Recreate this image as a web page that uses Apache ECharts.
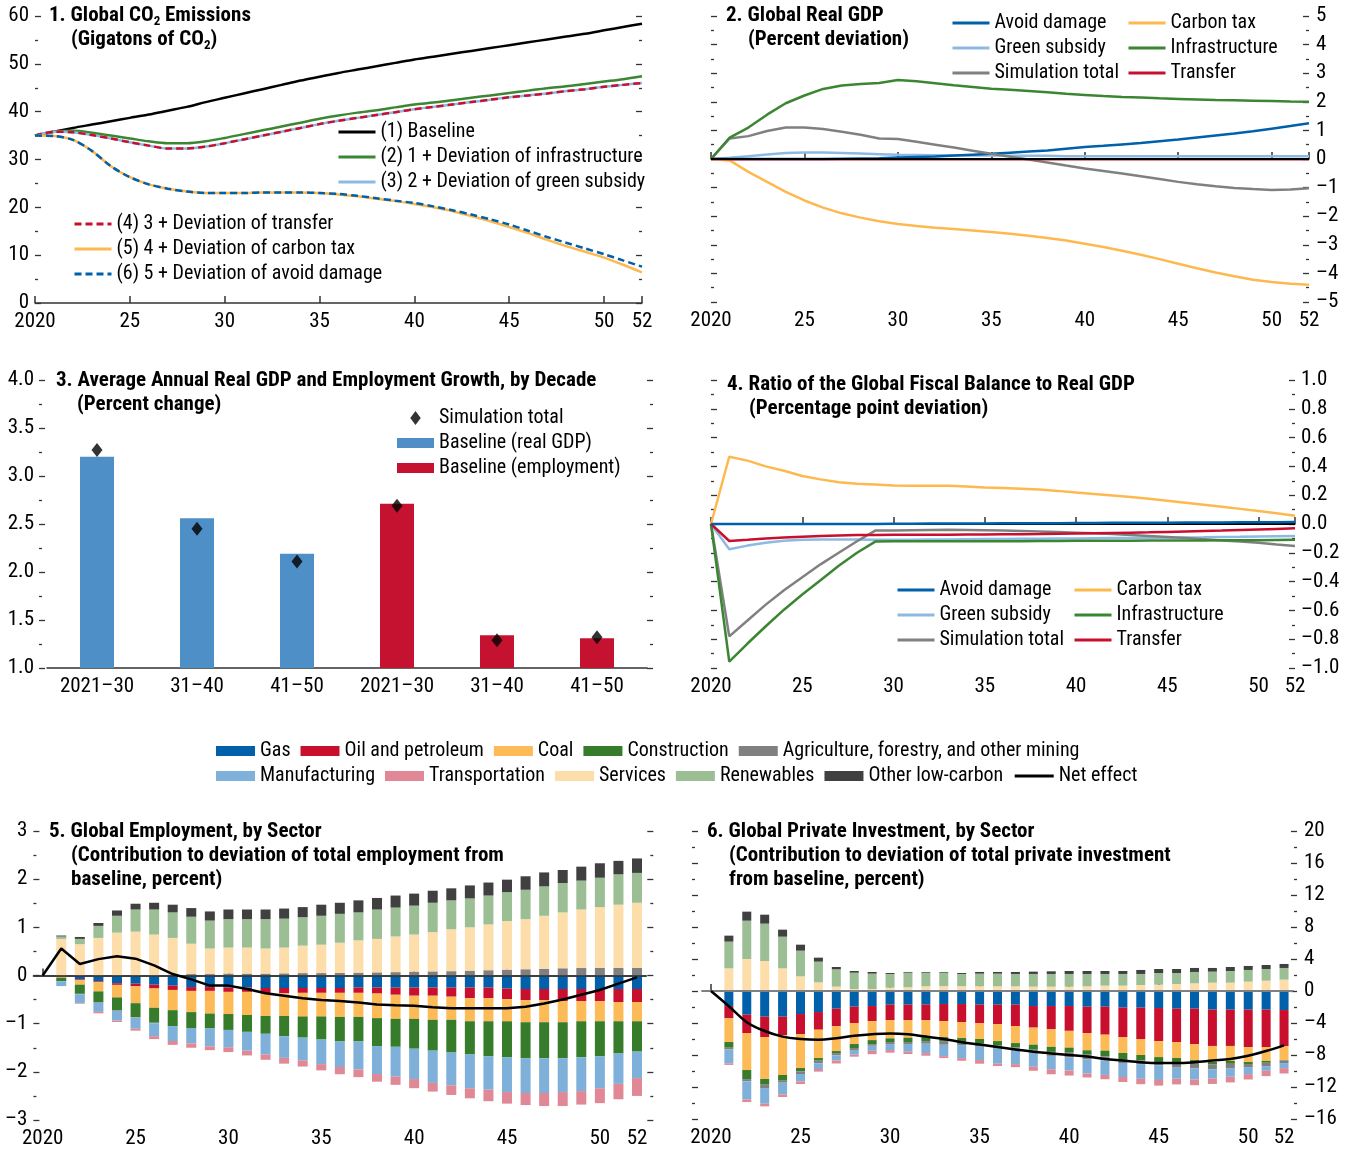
<!DOCTYPE html>
<html><head><meta charset="utf-8">
<script src="https://cdn.jsdelivr.net/npm/echarts@6/dist/echarts.min.js"></script>
<style>html,body{margin:0;padding:0;background:#fff}#c{width:1353px;height:1151px}</style>
</head><body><div id="c"></div>
<script>
// ---------- categories ----------
const years = ['2020','2021','2022','2023','2024','2025','2026','2027','2028','2029','2030','2031','2032','2033','2034','2035','2036','2037','2038','2039','2040','2041','2042','2043','2044','2045','2046','2047','2048','2049','2050','2051','2052'];
const tickYears = ['2020','2025','2030','2035','2040','2045','2050','2052'];

// ---------- Panel 1: Global CO2 emissions ----------
const co2Baseline = [35.0,35.8,36.6,37.3,38.0,38.7,39.4,40.2,41.0,42.0,42.9,43.8,44.7,45.6,46.5,47.3,48.1,48.8,49.5,50.2,50.9,51.5,52.1,52.7,53.3,53.9,54.5,55.1,55.7,56.3,57.0,57.7,58.4];
const co2Infra    = [35.0,35.8,36.0,35.6,35.0,34.4,33.8,33.4,33.4,33.8,34.5,35.3,36.1,36.9,37.7,38.5,39.2,39.8,40.3,40.9,41.5,41.9,42.4,42.9,43.4,43.9,44.4,44.9,45.3,45.8,46.3,46.8,47.4];
const co2Subsidy  = [35.0,35.8,35.7,35.1,34.4,33.6,32.9,32.3,32.3,32.7,33.4,34.2,35.0,35.8,36.6,37.4,38.1,38.7,39.3,39.9,40.5,41.0,41.5,42.0,42.5,43.0,43.4,43.8,44.3,44.7,45.2,45.6,46.0];
const co2Transfer = [35.0,35.8,35.7,35.1,34.4,33.6,32.9,32.3,32.3,32.7,33.4,34.2,35.0,35.8,36.6,37.4,38.1,38.7,39.3,39.9,40.5,41.0,41.5,42.0,42.5,43.0,43.4,43.8,44.3,44.7,45.2,45.6,46.0];
const co2Carbon   = [35.0,34.9,34.1,31.8,28.6,26.3,24.8,23.9,23.3,23.0,23.0,23.0,23.1,23.1,23.1,23.0,22.7,22.3,21.8,21.3,20.7,20.0,19.2,18.2,17.1,15.9,14.6,13.2,11.9,10.7,9.5,8.0,6.4];
const co2Avoid    = [35.0,34.9,34.1,31.8,28.6,26.3,24.8,23.9,23.3,23.0,23.0,23.0,23.1,23.1,23.1,23.0,22.8,22.4,21.9,21.4,20.9,20.2,19.4,18.5,17.5,16.4,15.1,13.8,12.6,11.4,10.2,8.9,7.6];

// ---------- Panel 2: Global real GDP ----------
const gdpAvoid    = [0,0,0,0,0,0,0,0.01,0.02,0.03,0.05,0.07,0.09,0.12,0.15,0.18,0.22,0.26,0.3,0.36,0.42,0.46,0.51,0.56,0.62,0.68,0.75,0.82,0.89,0.97,1.06,1.15,1.25];
const gdpSubsidy  = [0,0.04,0.1,0.16,0.21,0.23,0.23,0.21,0.19,0.17,0.15,0.14,0.13,0.12,0.12,0.12,0.11,0.11,0.11,0.1,0.1,0.1,0.1,0.1,0.1,0.1,0.1,0.1,0.1,0.1,0.1,0.1,0.1];
const gdpTotal    = [0,0.72,0.8,0.98,1.1,1.1,1.05,0.95,0.85,0.72,0.7,0.6,0.5,0.4,0.29,0.18,0.08,-0.02,-0.12,-0.23,-0.33,-0.42,-0.51,-0.6,-0.7,-0.8,-0.88,-0.95,-1.01,-1.05,-1.08,-1.07,-1.02];
const gdpCarbon   = [0,-0.05,-0.45,-0.8,-1.15,-1.45,-1.7,-1.9,-2.05,-2.18,-2.27,-2.34,-2.4,-2.45,-2.5,-2.55,-2.61,-2.68,-2.76,-2.85,-2.96,-3.08,-3.21,-3.35,-3.5,-3.66,-3.82,-3.97,-4.1,-4.22,-4.3,-4.36,-4.4];
const gdpInfra    = [0,0.75,1.1,1.55,1.95,2.22,2.45,2.57,2.62,2.66,2.76,2.72,2.65,2.58,2.52,2.46,2.42,2.38,2.33,2.28,2.24,2.2,2.17,2.15,2.12,2.1,2.08,2.06,2.05,2.04,2.03,2.01,2.0];
const gdpTransfer = [0,-0.01,-0.01,-0.01,-0.01,-0.01,-0.01,-0.01,-0.01,-0.01,-0.01,-0.01,-0.01,-0.01,-0.01,-0.01,-0.01,-0.01,-0.01,-0.01,-0.01,-0.01,-0.01,-0.01,-0.01,-0.01,-0.01,-0.01,-0.01,-0.01,-0.01,-0.01,-0.01];

// ---------- Panel 3: growth by decade ----------
const decadeLabels = ['2021\u201330','31\u201340','41\u201350','2021\u201330','31\u201340','41\u201350'];
const baseGdp  = [3.2,2.56,2.19,'-','-','-'];
const baseEmp  = ['-','-','-',2.71,1.34,1.31];
const simTotal = [3.27,2.45,2.11,2.69,1.29,1.32];

// ---------- Panel 4: fiscal balance ----------
const fbAvoid    = [0,0,0,0,0,0,0,0,0,0,0.002,0.002,0.003,0.003,0.004,0.004,0.005,0.005,0.006,0.006,0.007,0.007,0.008,0.008,0.009,0.009,0.01,0.01,0.011,0.012,0.012,0.013,0.014];
const fbSubsidy  = [0,-0.176,-0.15,-0.13,-0.116,-0.11,-0.108,-0.108,-0.108,-0.11,-0.11,-0.11,-0.108,-0.107,-0.106,-0.105,-0.104,-0.103,-0.102,-0.101,-0.1,-0.099,-0.098,-0.097,-0.096,-0.095,-0.093,-0.092,-0.09,-0.089,-0.087,-0.085,-0.083];
const fbTotal    = [0,-0.78,-0.67,-0.56,-0.46,-0.37,-0.28,-0.2,-0.12,-0.046,-0.045,-0.043,-0.041,-0.04,-0.041,-0.043,-0.045,-0.048,-0.052,-0.056,-0.06,-0.065,-0.07,-0.076,-0.083,-0.09,-0.098,-0.106,-0.114,-0.122,-0.13,-0.142,-0.153];
const fbCarbon   = [0,0.467,0.44,0.4,0.37,0.333,0.31,0.29,0.28,0.275,0.268,0.266,0.266,0.265,0.26,0.254,0.25,0.245,0.24,0.23,0.218,0.208,0.198,0.188,0.175,0.162,0.148,0.134,0.12,0.105,0.09,0.075,0.058];
const fbInfra    = [0,-0.955,-0.83,-0.71,-0.595,-0.49,-0.39,-0.29,-0.2,-0.122,-0.12,-0.12,-0.12,-0.12,-0.12,-0.12,-0.12,-0.12,-0.118,-0.118,-0.117,-0.117,-0.116,-0.116,-0.115,-0.115,-0.114,-0.114,-0.113,-0.112,-0.112,-0.111,-0.11];
const fbTransfer = [0,-0.118,-0.11,-0.1,-0.093,-0.088,-0.083,-0.08,-0.077,-0.076,-0.075,-0.075,-0.074,-0.074,-0.073,-0.073,-0.072,-0.071,-0.07,-0.068,-0.066,-0.064,-0.062,-0.06,-0.058,-0.055,-0.052,-0.049,-0.046,-0.042,-0.038,-0.034,-0.03];

// ---------- Panel 5: employment by sector ----------
const empGas       = [0,-0.005,-0.08,-0.12,-0.16,-0.17,-0.19,-0.21,-0.24,-0.24,-0.25,-0.25,-0.26,-0.26,-0.26,-0.26,-0.26,-0.25,-0.25,-0.25,-0.25,-0.25,-0.25,-0.25,-0.25,-0.27,-0.28,-0.28,-0.28,-0.28,-0.28,-0.28,-0.28];
const empOil       = [0,-0.02,-0.02,-0.02,-0.035,-0.055,-0.08,-0.09,-0.08,-0.08,-0.09,-0.09,-0.11,-0.11,-0.1,-0.1,-0.1,-0.11,-0.125,-0.15,-0.17,-0.17,-0.19,-0.22,-0.22,-0.22,-0.23,-0.23,-0.25,-0.25,-0.25,-0.27,-0.27];
const empCoal      = [0,-0.02,-0.09,-0.19,-0.26,-0.35,-0.4,-0.42,-0.44,-0.47,-0.46,-0.48,-0.47,-0.47,-0.49,-0.49,-0.5,-0.5,-0.51,-0.5,-0.48,-0.5,-0.48,-0.48,-0.48,-0.46,-0.46,-0.46,-0.44,-0.42,-0.42,-0.4,-0.4];
const empConstr    = [0,-0.07,-0.19,-0.22,-0.27,-0.29,-0.31,-0.33,-0.33,-0.31,-0.33,-0.35,-0.37,-0.42,-0.44,-0.48,-0.51,-0.51,-0.58,-0.58,-0.62,-0.64,-0.68,-0.69,-0.73,-0.75,-0.75,-0.75,-0.75,-0.75,-0.73,-0.67,-0.63];
const empAgri      = [0,-0.005,-0.01,-0.015,-0.01,-0.01,-0.01,0.02,0.03,0.03,0.04,0.04,0.04,0.045,0.05,0.05,0.055,0.06,0.065,0.07,0.08,0.085,0.09,0.1,0.11,0.12,0.13,0.14,0.15,0.155,0.16,0.16,0.16];
const empManuf     = [0,-0.1,-0.18,-0.19,-0.2,-0.23,-0.27,-0.31,-0.32,-0.37,-0.36,-0.39,-0.43,-0.45,-0.47,-0.51,-0.53,-0.58,-0.58,-0.62,-0.63,-0.67,-0.68,-0.7,-0.69,-0.72,-0.72,-0.72,-0.7,-0.7,-0.66,-0.63,-0.55];
const empTransport = [0,0,-0.015,-0.03,-0.03,-0.04,-0.06,-0.08,-0.09,-0.08,-0.1,-0.1,-0.11,-0.12,-0.13,-0.13,-0.15,-0.16,-0.16,-0.17,-0.19,-0.18,-0.2,-0.21,-0.24,-0.24,-0.25,-0.27,-0.29,-0.28,-0.31,-0.32,-0.37];
const empServices  = [0,0.76,0.65,0.78,0.89,0.91,0.85,0.76,0.63,0.53,0.54,0.54,0.52,0.535,0.57,0.59,0.625,0.67,0.695,0.74,0.77,0.815,0.87,0.9,0.95,1.01,1.04,1.1,1.16,1.215,1.26,1.31,1.35];
const empRenew     = [0,0.05,0.11,0.25,0.35,0.46,0.52,0.53,0.56,0.58,0.59,0.59,0.61,0.6,0.59,0.6,0.6,0.58,0.61,0.6,0.6,0.61,0.6,0.6,0.6,0.6,0.61,0.61,0.61,0.6,0.61,0.63,0.62];
const empOther     = [0,0.02,0.04,0.06,0.11,0.12,0.14,0.16,0.18,0.19,0.2,0.2,0.2,0.21,0.21,0.23,0.23,0.25,0.24,0.25,0.25,0.25,0.25,0.27,0.27,0.26,0.28,0.29,0.27,0.29,0.3,0.28,0.3];
const empNet       = [0,0.56,0.24,0.34,0.4,0.35,0.21,0.03,-0.08,-0.21,-0.21,-0.28,-0.37,-0.42,-0.47,-0.51,-0.53,-0.56,-0.6,-0.62,-0.63,-0.66,-0.68,-0.68,-0.68,-0.68,-0.65,-0.58,-0.5,-0.4,-0.3,-0.17,-0.04];

// ---------- Panel 6: private investment by sector ----------
const invGas       = [0,-1.88,-2.96,-3.21,-3.21,-2.88,-2.63,-2.21,-1.96,-1.88,-1.71,-1.71,-1.71,-1.63,-1.63,-1.71,-1.71,-1.71,-1.88,-1.88,-1.88,-1.96,-1.96,-2.08,-2.08,-2.13,-2.21,-2.21,-2.33,-2.33,-2.33,-2.33,-2.38];
const invOil       = [0,-1.5,-2.29,-2.54,-2.33,-2.5,-2.21,-2.17,-2.04,-1.88,-1.92,-1.92,-1.92,-2.13,-2.25,-2.29,-2.42,-2.67,-2.7,-2.9,-3.1,-3.3,-3.5,-3.67,-3.92,-4.13,-4.17,-4.42,-4.54,-4.54,-4.67,-4.67,-4.5];
const invCoal      = [0,-3.0,-4.63,-5.25,-4.96,-4.25,-3.54,-3.13,-2.63,-2.38,-2.29,-2.21,-2.13,-2.0,-2.0,-2.0,-2.13,-2.13,-2.13,-2.2,-2.1,-2.15,-2.0,-2.0,-2.0,-2.0,-2.0,-2.0,-2.0,-1.88,-1.88,-1.75,-1.75];
const invConstr    = [0,-0.71,-1.13,-0.71,-0.71,-0.42,-0.33,-0.25,-0.5,-0.5,-0.46,-0.54,-0.5,-0.5,-0.5,-0.58,-0.58,-0.54,-0.63,-0.63,-0.63,-0.55,-0.7,-0.75,-0.65,-0.63,-0.6,-0.35,-0.28,-0.35,-0.25,-0.22,-0.05];
const invAgri      = [0,-0.2,-0.29,-0.42,-0.25,-0.33,-0.33,-0.29,-0.25,-0.21,-0.25,-0.25,-0.33,-0.46,-0.38,-0.38,-0.29,-0.21,-0.25,-0.5,-0.6,-0.6,-0.5,-0.5,-0.5,-0.4,-0.6,-0.7,-0.63,-0.54,-0.38,-0.42,-0.33];
const invManuf     = [0,-1.75,-2.25,-1.96,-1.46,-0.92,-0.71,-0.63,-0.58,-0.63,-0.75,-0.96,-1.17,-1.42,-1.63,-1.67,-1.96,-1.88,-1.88,-1.67,-1.63,-1.75,-1.83,-1.75,-1.83,-1.83,-1.38,-1.38,-1.17,-1.08,-0.88,-0.58,-0.63];
const invTransport = [0,-0.2,-0.33,-0.33,-0.33,-0.33,-0.33,-0.38,-0.25,-0.42,-0.33,-0.29,-0.33,-0.25,-0.33,-0.46,-0.29,-0.38,-0.5,-0.63,-0.63,-0.5,-0.54,-0.63,-0.67,-0.71,-0.71,-0.71,-0.67,-0.71,-0.67,-0.67,-0.67];
const invServices  = [0,2.83,4.0,3.75,2.83,1.83,1.08,0.54,0.25,0.25,0.42,0.46,0.58,0.6,0.6,0.6,0.58,0.58,0.54,0.54,0.54,0.58,0.67,0.67,0.75,0.79,0.88,0.96,1.04,1.04,1.17,1.29,1.42];
const invRenew     = [0,3.34,4.79,4.67,3.96,3.21,2.59,2.17,2.04,1.92,1.71,1.83,1.71,1.69,1.53,1.57,1.59,1.55,1.59,1.59,1.59,1.55,1.46,1.46,1.38,1.46,1.37,1.42,1.38,1.46,1.46,1.46,1.46];
const invOther     = [0,0.75,1.13,1.12,0.88,0.75,0.5,0.29,0.21,0.21,0.12,0.09,0.09,0.09,0.12,0.21,0.21,0.25,0.29,0.33,0.37,0.37,0.37,0.37,0.5,0.5,0.5,0.5,0.46,0.5,0.5,0.5,0.5];
const invNet       = [0,-1.9,-3.9,-5.0,-5.7,-6.0,-6.1,-5.9,-5.6,-5.4,-5.3,-5.4,-5.7,-6.0,-6.4,-6.7,-7.0,-7.3,-7.6,-7.8,-8.0,-8.2,-8.5,-8.7,-8.9,-9.0,-9.0,-8.9,-8.7,-8.5,-8.1,-7.5,-6.8];

// ---------- styling ----------
const FONT = "'Liberation Sans Narrow','Arial Narrow','Roboto Condensed','DejaVu Sans Condensed',Roboto,sans-serif";
const TICK_FS = 21, LEG_FS = 20, TITLE_FS = 21;
const C = {
  avoid:'#0060A9', subsidy:'#8DB9E2', total:'#808080', carbon:'#FDB94F', infra:'#3B8631', transfer:'#C8102E',
  gas:'#0060A9', oil:'#C8102E', coal:'#FDBB58', constr:'#367C2B', agri:'#808080', manuf:'#7FB0D9',
  transport:'#E08895', services:'#FDDEAA', renew:'#9BBE95', other:'#404040', gdpBar:'#4F8FC8', empBar:'#C41230'
};
const dash = v => (v < 0 ? '\u2013' + String(Math.abs(v)) : String(v));
const dash1 = v => (v < 0 ? '\u2013' + Math.abs(v).toFixed(1) : v.toFixed(1));
const isTick = (i, v) => tickYears.indexOf(v) >= 0;
const yearFmt = v => (v === '2020' ? '2020' : v.slice(2));

function timeAxis(gridIndex, boundaryGap) {
  return {
    type:'category', gridIndex, data: years, boundaryGap,
    axisLine:{show:true, lineStyle:{color:'#333', width:1.5}},
    axisTick:{show:true, inside:true, length:7, alignWithLabel:true, interval:isTick, lineStyle:{color:'#333', width:1.5}},
    axisLabel:{interval:isTick, formatter:yearFmt, fontFamily:FONT, fontSize:TICK_FS, color:'#000', margin:8},
    splitLine:{show:false}
  };
}
function valAxis(gridIndex, min, max, interval, position, showLabel, fmt, offset, margin) {
  return {
    type:'value', gridIndex, min, max, interval, position, offset: offset || 0,
    axisLine:{show:false},
    axisTick:{show:true, inside:true, length:6, lineStyle:{color:'#333', width:1.3}},
    minorTick:{show:true, splitNumber:2, length:3, lineStyle:{color:'#333', width:1.3}},
    splitLine:{show:false}, minorSplitLine:{show:false},
    axisLabel:{show:showLabel, formatter:fmt, fontFamily:FONT, fontSize:TICK_FS, color:'#000', margin: margin || 6}
  };
}
function line(name, xi, yi, data, color, width, extra) {
  return Object.assign({
    name, type:'line', xAxisIndex:xi, yAxisIndex:yi, data, symbol:'none',
    lineStyle:{color, width}, itemStyle:{color}, z:3
  }, extra || {});
}
function bar(name, xi, yi, data, color, stack, bw) {
  return { name, type:'bar', xAxisIndex:xi, yAxisIndex:yi, data, stack, barWidth:bw, itemStyle:{color}, z:2 };
}
const zeroLine = (color, width) => ({
  silent:true, symbol:'none', label:{show:false}, z:10,
  lineStyle:{color, width, type:'solid'}, data:[{yAxis:0}]
});

const titleStyle = {
  fontFamily:FONT, fontSize:TITLE_FS, fontWeight:'bold', color:'#000', lineHeight:24,
  rich:{ s:{fontFamily:FONT, fontSize:13, fontWeight:'bold', color:'#000', lineHeight:15, verticalAlign:'bottom'} }
};
const T = (left, top, text) => ({left, top, text, padding:0, textStyle:titleStyle});

const legText = {fontFamily:FONT, fontSize:LEG_FS, color:'#000', lineHeight:20};
const vLegend = (left, top, data, extra) => Object.assign({
  orient:'vertical', left, top, data, itemWidth:37, itemHeight:14, itemGap:5, padding:0,
  selectedMode:false, textStyle:legText, itemStyle:{opacity:0}, lineStyle:{width:3}
}, extra || {});
const hLegend = (left, top, data) => ({
  orient:'horizontal', left, top, data, itemWidth:39, itemHeight:10, itemGap:10, padding:0,
  selectedMode:false, textStyle:legText, lineStyle:{width:3}
});
const R = name => ({name, icon:'rect'});

const option = {
  animation:false,
  backgroundColor:'#fff',
  title:[
    T(49, 4, '1. Global CO{s|2} Emissions'),
    T(71, 28, '(Gigatons of CO{s|2})'),
    T(726, 4, '2. Global Real GDP'),
    T(748, 28, '(Percent deviation)'),
    T(56, 369, '3. Average Annual Real GDP and Employment Growth, by Decade'),
    T(77, 393, '(Percent change)'),
    T(727, 373, '4. Ratio of the Global Fiscal Balance to Real GDP'),
    T(749, 397, '(Percentage point deviation)'),
    T(49, 820, '5. Global Employment, by Sector'),
    T(71, 844, '(Contribution to deviation of total employment from'),
    T(71, 868, 'baseline, percent)'),
    T(707, 820, '6. Global Private Investment, by Sector'),
    T(729, 844, '(Contribution to deviation of total private investment'),
    T(729, 868, 'from baseline, percent)')
  ],
  grid:[
    {left:35, top:16, width:607, height:287},
    {left:711, top:16, width:598, height:286},
    {left:47, top:380, width:600, height:288},
    {left:711, top:380, width:584, height:288},
    {left:33.4, top:831, width:612.9, height:289},
    {left:702, top:831, width:591, height:288}
  ],
  xAxis:[
    timeAxis(0, false),
    timeAxis(1, false),
    {type:'category', gridIndex:2, data:decadeLabels.map((d, i) => String(i)), boundaryGap:true,
     axisLine:{lineStyle:{color:'#333', width:1.5}}, axisTick:{show:false},
     axisLabel:{formatter:v => decadeLabels[+v], fontFamily:FONT, fontSize:TICK_FS, color:'#000', margin:8}},
    timeAxis(3, false),
    timeAxis(4, true),
    timeAxis(5, true)
  ],
  yAxis:[
    valAxis(0, 0, 60, 10, 'left', true, dash, 0, 6),
    valAxis(0, 0, 60, 10, 'right', false),
    valAxis(1, -5, 5, 1, 'right', true, dash, 0, 7),
    valAxis(1, -5, 5, 1, 'left', false),
    valAxis(2, 1, 4, 0.5, 'left', true, v => v.toFixed(1), 8, 5),
    valAxis(2, 1, 4, 0.5, 'right', false, null, 6),
    valAxis(3, -1, 1, 0.2, 'right', true, dash1, 0, 6),
    valAxis(3, -1, 1, 0.2, 'left', false),
    valAxis(4, -3, 3, 1, 'left', true, dash, 0, 6),
    valAxis(4, -3, 3, 1, 'right', false, null, 7),
    valAxis(5, -16, 20, 4, 'right', true, dash, 4, 7),
    valAxis(5, -16, 20, 4, 'left', false, null, 10)
  ],
  legend:[
    vLegend(337, 122, ['(1) Baseline','(2) 1 + Deviation of infrastructure','(3) 2 + Deviation of green subsidy']),
    vLegend(73, 214, ['(4) 3 + Deviation of transfer','(5) 4 + Deviation of carbon tax','(6) 5 + Deviation of avoid damage']),
    vLegend(951, 13, ['Avoid damage','Green subsidy','Simulation total']),
    vLegend(1127, 13, ['Carbon tax','Infrastructure','Transfer']),
    vLegend(397, 408, [
      {name:'Simulation total ', icon:'path://M6,0L12,8L6,16L0,8Z'},
      {name:'Baseline (real GDP)', icon:'path://M0,0H37V10H0Z'},
      {name:'Baseline (employment)', icon:'path://M0,0H37V10H0Z'}
    ], {symbolKeepAspect:true, itemGap:5, itemStyle:{}}),
    vLegend(896, 580, ['Avoid damage','Green subsidy','Simulation total']),
    vLegend(1073, 580, ['Carbon tax','Infrastructure','Transfer']),
    hLegend(216, 741, [R('Gas'), R('Oil and petroleum'), R('Coal'), R('Construction'), R('Agriculture, forestry, and other mining')]),
    hLegend(216, 766, [R('Manufacturing'), R('Transportation'), R('Services'), R('Renewables'), R('Other low-carbon'), {name:'Net effect', itemStyle:{opacity:0}}])
  ],
  series:[
    // Panel 1
    line('(1) Baseline', 0, 0, co2Baseline, '#000', 2.5, {smooth:0.3}),
    line('(2) 1 + Deviation of infrastructure', 0, 0, co2Infra, C.infra, 2.5, {smooth:0.3}),
    line('(3) 2 + Deviation of green subsidy', 0, 0, co2Subsidy, C.subsidy, 2.5, {smooth:0.3}),
    line('(4) 3 + Deviation of transfer', 0, 0, co2Transfer, C.transfer, 2.5, {smooth:0.3, lineStyle:{color:C.transfer, width:2.5, type:[7,4]}}),
    line('(5) 4 + Deviation of carbon tax', 0, 0, co2Carbon, C.carbon, 2.5, {smooth:0.3}),
    line('(6) 5 + Deviation of avoid damage', 0, 0, co2Avoid, C.avoid, 2.5, {smooth:0.3, lineStyle:{color:C.avoid, width:2.5, type:[7,4]}}),
    // Panel 2
    line('Green subsidy', 1, 2, gdpSubsidy, C.subsidy, 2.5),
    line('Avoid damage', 1, 2, gdpAvoid, C.avoid, 2.5),
    line('Simulation total', 1, 2, gdpTotal, C.total, 2.5),
    line('Carbon tax', 1, 2, gdpCarbon, C.carbon, 2.5),
    line('Infrastructure', 1, 2, gdpInfra, C.infra, 2.5),
    line('Transfer', 1, 2, gdpTransfer, C.transfer, 2.5, {markLine:zeroLine('#000', 2)}),
    // Panel 3
    bar('Baseline (real GDP)', 2, 4, baseGdp, C.gdpBar, 'p3', 34),
    bar('Baseline (employment)', 2, 4, baseEmp, C.empBar, 'p3', 34),
    {name:'Simulation total ', type:'scatter', xAxisIndex:2, yAxisIndex:4, data:simTotal,
     symbol:'diamond', symbolSize:[11,14], itemStyle:{color:'#000'}, z:5},
    // Panel 4
    line('Green subsidy', 3, 6, fbSubsidy, C.subsidy, 2.5, {markLine:zeroLine('#000', 2)}),
    line('Avoid damage', 3, 6, fbAvoid, C.avoid, 2.5, {z:12}),
    line('Simulation total', 3, 6, fbTotal, C.total, 2.5),
    line('Carbon tax', 3, 6, fbCarbon, C.carbon, 2.5),
    line('Infrastructure', 3, 6, fbInfra, C.infra, 2.5),
    line('Transfer', 3, 6, fbTransfer, C.transfer, 2.5),
    // Panel 5
    bar('Gas', 4, 8, empGas, C.gas, 'emp', 10),
    bar('Oil and petroleum', 4, 8, empOil, C.oil, 'emp', 10),
    bar('Coal', 4, 8, empCoal, C.coal, 'emp', 10),
    bar('Construction', 4, 8, empConstr, C.constr, 'emp', 10),
    bar('Agriculture, forestry, and other mining', 4, 8, empAgri, C.agri, 'emp', 10),
    bar('Manufacturing', 4, 8, empManuf, C.manuf, 'emp', 10),
    bar('Transportation', 4, 8, empTransport, C.transport, 'emp', 10),
    bar('Services', 4, 8, empServices, C.services, 'emp', 10),
    bar('Renewables', 4, 8, empRenew, C.renew, 'emp', 10),
    Object.assign(bar('Other low-carbon', 4, 8, empOther, C.other, 'emp', 10), {markLine:zeroLine('#333', 1.5)}),
    line('Net effect', 4, 8, empNet, '#000', 2.5, {z:20}),
    // Panel 6
    bar('Gas', 5, 10, invGas, C.gas, 'inv', 9),
    bar('Oil and petroleum', 5, 10, invOil, C.oil, 'inv', 9),
    bar('Coal', 5, 10, invCoal, C.coal, 'inv', 9),
    bar('Construction', 5, 10, invConstr, C.constr, 'inv', 9),
    bar('Agriculture, forestry, and other mining', 5, 10, invAgri, C.agri, 'inv', 9),
    bar('Manufacturing', 5, 10, invManuf, C.manuf, 'inv', 9),
    bar('Transportation', 5, 10, invTransport, C.transport, 'inv', 9),
    bar('Services', 5, 10, invServices, C.services, 'inv', 9),
    bar('Renewables', 5, 10, invRenew, C.renew, 'inv', 9),
    Object.assign(bar('Other low-carbon', 5, 10, invOther, C.other, 'inv', 9), {markLine:zeroLine('#808080', 2)}),
    line('Net effect', 5, 10, invNet, '#000', 2.5, {z:20, smooth:0.4})
  ]
};
const chart = echarts.init(document.getElementById('c'), null, {renderer:'canvas'});
chart.setOption(option);
</script>
</body></html>
